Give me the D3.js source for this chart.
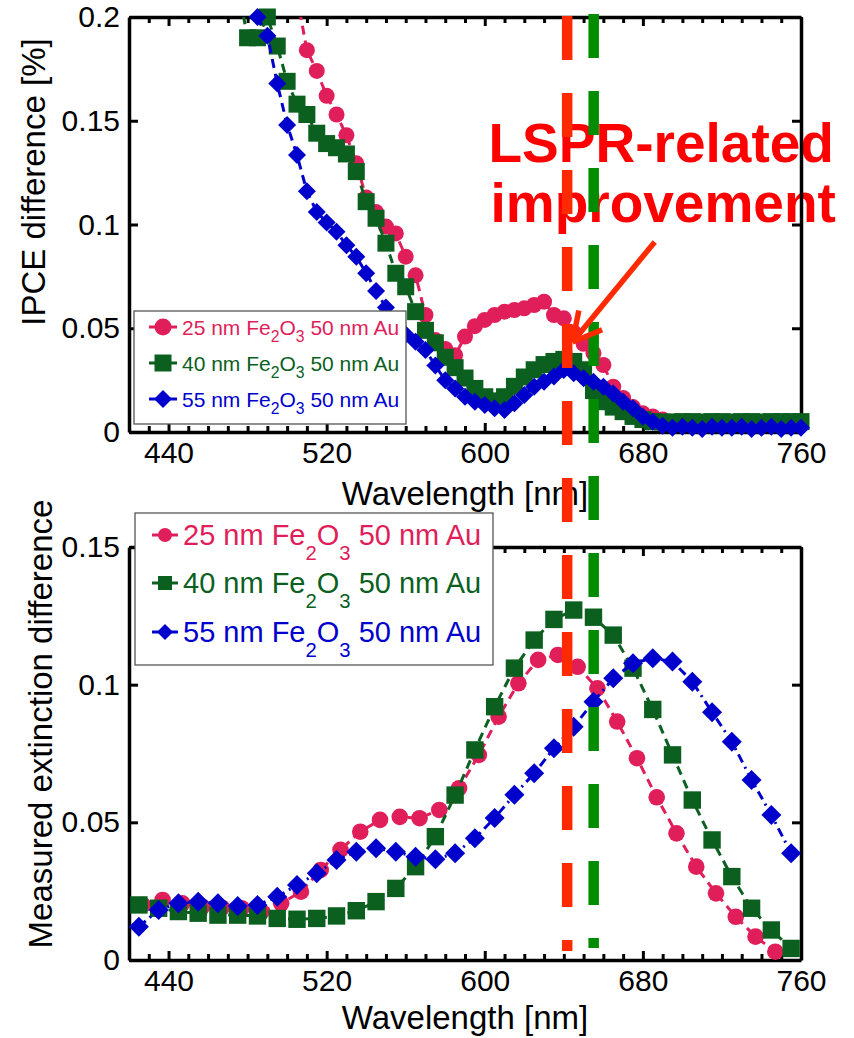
<!DOCTYPE html>
<html><head><meta charset="utf-8">
<script src="https://cdn.jsdelivr.net/npm/d3@7"></script>
<style>
body{margin:0;background:#fff}
svg{display:block}
text{font-family:Arial,"Liberation Sans",Helvetica,sans-serif}
</style>
</head><body>
<svg id="c" width="854" height="1038"></svg>
<script>
// ---------------- DATA ----------------
// Top panel: IPCE difference [%]
const ipceWl25 = [505,510,515,520,525,530,535,540,545,550,555,560,565,570,575,580,585,590,595,600,605,610,615,620,625,630,635,640,645,650,655,660,665,670,675,680,685,690,695,700,705,710,715,720,725,730,735,740,745,750,755,760];
const ipce25   = [0.210,0.184,0.174,0.162,0.153,0.143,0.1295,0.113,0.106,0.099,0.0957,0.0845,0.0755,0.0564,0.0443,0.040,0.037,0.046,0.051,0.054,0.0564,0.058,0.0588,0.0596,0.0612,0.0628,0.0564,0.0548,0.048,0.0425,0.038,0.0323,0.0218,0.0164,0.012,0.009,0.0075,0.006,0.005,0.0045,0.004,0.0045,0.004,0.004,0.0045,0.004,0.004,0.0045,0.0045,0.004,0.004,0.004];
const ipceWl40 = [475,480,485,490,495,500,505,510,515,520,525,530,535,540,545,550,555,560,565,570,575,580,585,590,595,600,605,610,615,620,625,630,635,640,645,650,655,660,665,670,675,680,685,690,695,700,705,710,715,720,725,730,735,740,745,750,755,760];
const ipce40   = [0.215,0.19,0.19,0.2,0.186,0.169,0.158,0.153,0.144,0.139,0.137,0.134,0.1255,0.111,0.103,0.091,0.0765,0.070,0.058,0.049,0.043,0.036,0.031,0.026,0.021,0.017,0.015,0.017,0.022,0.0265,0.030,0.0325,0.034,0.035,0.034,0.030,0.020,0.0146,0.012,0.0098,0.0075,0.006,0.005,0.0048,0.0048,0.005,0.005,0.0048,0.005,0.005,0.0048,0.005,0.005,0.0048,0.005,0.005,0.005,0.005];
const ipceWl55 = [485,490,495,500,505,510,515,520,525,530,535,540,545,550,555,560,565,570,575,580,585,590,595,600,605,610,615,620,625,630,635,640,645,650,655,660,665,670,675,680,685,690,695,700,705,710,715,720,725,730,735,740,745,750,755,760];
const ipce55   = [0.2,0.191,0.168,0.148,0.1335,0.116,0.106,0.101,0.0965,0.090,0.0845,0.0765,0.068,0.060,0.053,0.047,0.0435,0.0395,0.032,0.025,0.021,0.017,0.0146,0.013,0.0114,0.0106,0.0138,0.0178,0.0218,0.0242,0.0267,0.0299,0.0283,0.0259,0.0242,0.0218,0.0186,0.0146,0.0114,0.0074,0.005,0.003,0.002,0.0025,0.002,0.0015,0.0025,0.002,0.002,0.0025,0.0015,0.002,0.0025,0.0015,0.002,0.002];

// Bottom panel: measured extinction difference
const extWl25 = [427,437,447,457,467,477,487,497,507,517,527,537,547,557,567,577,587,597,607,617,627,637,647,657,667,677,687,697,707,717,727,737,747];
const ext25   = [0.020,0.0218,0.0206,0.0194,0.019,0.0188,0.0176,0.0206,0.0248,0.0327,0.040,0.0466,0.0509,0.052,0.0515,0.0545,0.0624,0.0745,0.0884,0.1005,0.109,0.1108,0.1065,0.0987,0.0866,0.0733,0.0591,0.046,0.0339,0.0242,0.0157,0.0085,0.003];
const extWl40 = [425,435,445,455,465,475,485,495,505,515,525,535,545,555,565,575,585,595,605,615,625,635,645,655,665,675,685,695,705,715,725,735,745,755];
const ext40   = [0.020,0.0188,0.0176,0.017,0.0163,0.0163,0.016,0.0151,0.0148,0.0151,0.016,0.0179,0.0212,0.026,0.0339,0.0448,0.0599,0.0763,0.092,0.106,0.1162,0.1237,0.1271,0.1245,0.118,0.106,0.091,0.0745,0.0581,0.0436,0.0303,0.0188,0.0109,0.0042];
const extWl55 = [425,435,445,455,465,475,485,495,505,515,525,535,545,555,565,575,585,595,605,615,625,635,645,655,665,675,685,695,705,715,725,735,745,755];
const ext55   = [0.0121,0.0182,0.0206,0.0212,0.0206,0.0196,0.020,0.023,0.0272,0.0315,0.0363,0.0393,0.0406,0.0393,0.0375,0.0366,0.0388,0.0442,0.0516,0.060,0.0678,0.0769,0.0847,0.0938,0.1023,0.1078,0.1096,0.1084,0.1011,0.090,0.0793,0.0654,0.0527,0.0388];

// Labels / ticks
const seriesNames = ["25 nm Fe|2|O|3| 50 nm Au","40 nm Fe|2|O|3| 50 nm Au","55 nm Fe|2|O|3| 50 nm Au"];
const seriesColors = ["#e01e5a","#0b5f1f","#0000cc"];
const xMajorTicks = [440,520,600,680,760];
const xMinorTicks = [430,450,460,470,480,490,500,510,530,540,550,560,570,580,590,610,620,630,640,650,660,670,690,700,710,720,730,740,750];
const yTicksTop = [0,0.05,0.1,0.15,0.2];
const yTicksBottom = [0,0.05,0.1,0.15];
const lsprWl = [641.7, 655.1];
const lsprColors = ["#ff2a00","#008c00"];

// ---------------- DRAW ----------------
const svg = d3.select("#c");
const x = d3.scaleLinear().domain([420,760]).range([129,801]);
const yT = d3.scaleLinear().domain([0,0.2]).range([432,17]);
const yB = d3.scaleLinear().domain([0,0.15]).range([960,547]);

const defs = svg.append("defs");
defs.append("clipPath").attr("id","clipT").append("rect")
  .attr("x",129).attr("y",17).attr("width",672).attr("height",415);
defs.append("clipPath").attr("id","clipB").append("rect")
  .attr("x",129).attr("y",547).attr("width",672).attr("height",413);

// LSPR text (below axes)
const lspr = svg.append("g");
lspr.append("text").attr("x",x(601.9)).attr("y",yT(0.130))
  .attr("font-size",55).attr("font-weight","bold").attr("fill","#ff0000").text("LSPR-related");
lspr.append("text").attr("x",x(602.9)).attr("y",yT(0.1012))
  .attr("font-size",55).attr("font-weight","bold").attr("fill","#ff0000").text("improvement");

function drawAxes(y, yTicks){
  const [y0,y1] = y.range();
  const g = svg.append("g");
  const styleAx = sel => {
    sel.select(".domain").attr("stroke","#000").attr("stroke-width",3.5);
    sel.selectAll(".tick line").attr("stroke","#000").attr("stroke-width",3);
    sel.selectAll(".tick text").attr("font-size",30).attr("fill","#000")
      .attr("font-family","Arial, 'Liberation Sans', sans-serif");
  };
  // bottom
  g.append("g").attr("transform",`translate(0,${y0})`)
    .call(d3.axisBottom(x).tickValues(xMajorTicks).tickSize(-9).tickSizeOuter(0).tickPadding(10).tickFormat(d3.format("d")))
    .call(styleAx);
  g.append("g").attr("transform",`translate(0,${y0})`)
    .call(d3.axisBottom(x).tickValues(xMinorTicks).tickSize(-6).tickFormat(""))
    .call(s=>s.select(".domain").remove()).call(styleAx);
  // top
  g.append("g").attr("transform",`translate(0,${y1})`)
    .call(d3.axisTop(x).tickValues(xMajorTicks).tickSize(-9).tickSizeOuter(0).tickFormat(""))
    .call(styleAx);
  g.append("g").attr("transform",`translate(0,${y1})`)
    .call(d3.axisTop(x).tickValues(xMinorTicks).tickSize(-6).tickFormat(""))
    .call(s=>s.select(".domain").remove()).call(styleAx);
  // left
  g.append("g").attr("transform",`translate(${x.range()[0]},0)`)
    .call(d3.axisLeft(y).tickValues(yTicks).tickSize(-9).tickSizeOuter(0).tickPadding(9).tickFormat(d=>String(d)))
    .call(styleAx);
  // right
  g.append("g").attr("transform",`translate(${x.range()[1]},0)`)
    .call(d3.axisRight(y).tickValues(yTicks).tickSize(-9).tickSizeOuter(0).tickFormat(""))
    .call(styleAx);
  return g;
}

function markerPath(kind, s){
  if(kind==="circle") return d3.symbol(d3.symbolCircle, Math.PI*s*s)();
  if(kind==="square") return `M${-s},${-s}H${s}V${s}H${-s}Z`;
  return `M0,${-s}L${s},0L0,${s}L${-s},0Z`;
}

function drawSeries(y, clipId, wl, vals, color, kind, size, dash){
  const data = wl.map((w,i)=>({w, v:vals[i]}));
  const [ymin,ymax] = y.domain();
  svg.append("path").datum(data)
    .attr("clip-path",`url(#${clipId})`)
    .attr("d", d3.line().x(d=>x(d.w)).y(d=>y(d.v)))
    .attr("fill","none").attr("stroke",color).attr("stroke-width",3)
    .attr("stroke-dasharray",dash);
  svg.append("g").selectAll("path").data(data.filter(d=>d.v<=ymax+1e-9 && d.w>=420 && d.w<=760))
    .join("path")
    .attr("transform",d=>`translate(${x(d.w)},${y(d.v)})`)
    .attr("d", markerPath(kind,size))
    .attr("fill",color);
}

const kinds = ["circle","square","diamond"];

// ---- Top panel ----
drawAxes(yT, yTicksTop);
drawSeries(yT,"clipT",ipceWl25,ipce25,seriesColors[0],"circle",8,"9,6");
drawSeries(yT,"clipT",ipceWl40,ipce40,seriesColors[1],"square",8.5,"9,6");
drawSeries(yT,"clipT",ipceWl55,ipce55,seriesColors[2],"diamond",9,"9,6");

// ---- Bottom panel ----
drawAxes(yB, yTicksBottom);
drawSeries(yB,"clipB",extWl25,ext25,seriesColors[0],"circle",8.3,"9,6");
drawSeries(yB,"clipB",extWl40,ext40,seriesColors[1],"square",8.7,"9,6");
drawSeries(yB,"clipB",extWl55,ext55,seriesColors[2],"diamond",10,"9,5,2,5");

// ---- Legends ----
function legend(bx,by,bw,bh,rowYs,fs,mSizes,lineX0,lineX1,textX,subShift,subScale){
  const g = svg.append("g");
  g.append("rect").attr("x",bx).attr("y",by).attr("width",bw).attr("height",bh)
    .attr("fill","#fff").attr("stroke","#555").attr("stroke-width",1.3);
  seriesNames.forEach((nm,i)=>{
    const cy = rowYs[i];
    const c = seriesColors[i];
    g.append("line").attr("x1",lineX0).attr("x2",lineX1).attr("y1",cy).attr("y2",cy)
      .attr("stroke",c).attr("stroke-width",3);
    g.append("path").attr("transform",`translate(${(lineX0+lineX1)/2},${cy})`)
      .attr("d",markerPath(kinds[i],mSizes[i])).attr("fill",c);
    const t = g.append("text").attr("x",textX).attr("y",cy+0.36*fs).attr("font-size",fs).attr("fill",c);
    const parts = nm.split("|");
    parts.forEach((p,j)=>{
      if(j%2===1){
        t.append("tspan").attr("font-size",fs*subScale).attr("dy",fs*subShift).text(p);
      } else {
        const ts = t.append("tspan").text(p);
        if(j>0) ts.attr("dy",-fs*subShift);
      }
    });
  });
}
legend(134,311,272,113,[327,363,399],21,[8.5,8.5,9],149,177,182,0.35,0.75);
legend(135,513,358,152,[535,583,632],29,[7,7,8],152,178,183,0.5,0.7);

// ---- Axis titles ----
svg.append("text").attr("x",465).attr("y",505).attr("text-anchor","middle").attr("font-size",33).text("Wavelength [nm]");
svg.append("text").attr("x",465).attr("y",1029).attr("text-anchor","middle").attr("font-size",33).text("Wavelength [nm]");
svg.append("text").attr("transform","translate(45,182) rotate(-90)").attr("text-anchor","middle").attr("font-size",33).text("IPCE difference [%]");
svg.append("text").attr("transform","translate(52,724) rotate(-90)").attr("text-anchor","middle").attr("font-size",33).text("Measured extinction difference");

// ---- LSPR dashed lines ----
lsprWl.forEach((w,i)=>{
  svg.append("line").attr("x1",x(w)).attr("x2",x(w))
    .attr("y1", i===0?16:14).attr("y2", i===0?951:948)
    .attr("stroke",lsprColors[i]).attr("stroke-width",10.5)
    .attr("stroke-dasharray","44,33");
});

// ---- Arrow ----
const tail = [x(686), yT(0.0916)], tip = [x(644.4), yT(0.0434)];
const ar = svg.append("g").attr("stroke","#ff2a00").attr("stroke-width",5.5).attr("fill","none").attr("stroke-linecap","butt");
ar.append("line").attr("x1",tail[0]).attr("y1",tail[1]).attr("x2",tip[0]).attr("y2",tip[1]);
const ang = Math.atan2(tail[1]-tip[1], tail[0]-tip[0]);
[-0.49,0.49].forEach(da=>{
  ar.append("line").attr("x1",tip[0]).attr("y1",tip[1])
    .attr("x2",tip[0]+32*Math.cos(ang+da)).attr("y2",tip[1]+32*Math.sin(ang+da));
});
</script>
</body></html>
